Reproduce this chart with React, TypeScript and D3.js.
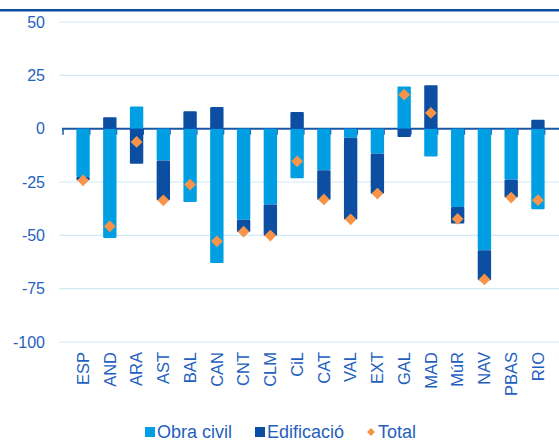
import React, { useEffect, useRef } from "react";
import * as d3 from "d3";

const categories = ["ESP", "AND", "ARA", "AST", "BAL", "CAN", "CNT", "CLM", "CiL", "CAT", "VAL", "EXT", "GAL", "MAD", "MúR", "NAV", "PBAS", "RIO"];
const obraCivil = [-22.7, -51.3, 10.4, -14.9, -34.4, -63.0, -42.7, -35.5, -23.2, -19.5, -4.2, -11.6, 19.8, -13.0, -36.7, -57.0, -23.9, -37.8];
const edificacio = [-1.5, 5.4, -16.4, -18.7, 8.2, 10.2, -5.7, -14.7, 7.8, -13.8, -38.4, -18.9, -3.9, 20.3, -7.8, -14.1, -8.4, 4.2];
const total = [-24.2, -45.8, -6.2, -33.6, -26.2, -52.8, -48.3, -50.1, -15.3, -33.2, -42.5, -30.4, 15.9, 7.4, -42.3, -70.7, -32.3, -33.5];
const yTicks = [50, 25, 0, -25, -50, -75, -100];
const seriesNames = ["Obra civil", "Edificació", "Total"];

const colors = {
  obra: "#009FE3",
  edif: "#0B4EA2",
  total: "#F7944A",
  grid: "#CDEBF8",
  axis: "#1A56A8",
  text: "#1F5FBF",
};
const font = "'Liberation Sans', Arial, sans-serif";

const App = () => {
  const svgRef = useRef<SVGSVGElement | null>(null);

  useEffect(() => {
    const width = 559;
    const height = 441;
    const svg = d3.select(svgRef.current);
    svg.selectAll("*").remove();

    svg.append("rect").attr("width", width).attr("height", height).attr("fill", "#fff");

    // header rule
    svg.append("rect").attr("x", 0).attr("y", 9).attr("width", width).attr("height", 2.5).attr("fill", "#0A4F9E");

    const x = d3.scaleBand<string>().domain(categories).range([63, 558]).padding(0.5);
    const y = d3.scaleLinear().domain([-100, 50]).range([342, 22]);

    // gridlines
    svg.append("g")
      .selectAll("line")
      .data(yTicks.filter((d) => d !== 0))
      .enter()
      .append("line")
      .attr("x1", 59)
      .attr("x2", width)
      .attr("y1", (d) => y(d))
      .attr("y2", (d) => y(d))
      .attr("stroke", colors.grid)
      .attr("stroke-width", 1.2);

    // y labels
    svg.append("g")
      .selectAll("text")
      .data(yTicks)
      .enter()
      .append("text")
      .attr("x", 45)
      .attr("y", (d) => y(d))
      .attr("dy", "0.35em")
      .attr("text-anchor", "end")
      .attr("fill", colors.text)
      .style("font-family", font)
      .style("font-size", "16px")
      .text((d) => d);

    // stacked bars
    const rows = categories.map((c, i) => ({ cat: c, obra: obraCivil[i], edif: edificacio[i] }));
    const stack = d3.stack<any>().keys(["obra", "edif"]).offset(d3.stackOffsetDiverging);
    const layers = stack(rows);
    const layerColors = [colors.obra, colors.edif];

    // zero axis with ticks
    const axisG = svg.append("g");
    axisG.append("line")
      .attr("x1", 62)
      .attr("x2", width)
      .attr("y1", y(0))
      .attr("y2", y(0))
      .attr("stroke", colors.axis)
      .attr("stroke-width", 2);
    const step = x.step();
    axisG.selectAll(".tick")
      .data(d3.range(categories.length + 1))
      .enter()
      .append("line")
      .attr("x1", (d) => 63 + d * step)
      .attr("x2", (d) => 63 + d * step)
      .attr("y1", y(0))
      .attr("y2", y(0) + 6)
      .attr("stroke", colors.axis)
      .attr("stroke-width", 1.5);

    layers.forEach((layer, li) => {
      svg.append("g")
        .selectAll("rect")
        .data(layer)
        .enter()
        .append("rect")
        .attr("x", (d: any) => x(d.data.cat)!)
        .attr("width", x.bandwidth())
        .attr("y", (d) => y(Math.max(d[0], d[1])))
        .attr("height", (d) => Math.abs(y(d[0]) - y(d[1])))
        .attr("rx", 1)
        .attr("fill", layerColors[li]);
    });

    // total diamonds
    const diamond = d3.symbol().type(d3.symbolDiamond2).size(88);
    svg.append("g")
      .selectAll("path")
      .data(total)
      .enter()
      .append("path")
      .attr("d", diamond)
      .attr("transform", (d, i) => `translate(${x(categories[i])! + x.bandwidth() / 2},${y(d)})`)
      .attr("fill", colors.total);

    // x labels
    svg.append("g")
      .selectAll("text")
      .data(categories)
      .enter()
      .append("text")
      .attr("transform", (d) => `translate(${x(d)! + x.bandwidth() / 2},352) rotate(-90)`)
      .attr("text-anchor", "end")
      .attr("dy", "0.35em")
      .attr("fill", colors.text)
      .style("font-family", font)
      .style("font-size", "16.5px")
      .text((d) => d);

    // legend
    const legend = svg.append("g").style("font-family", font).style("font-size", "18px");
    const items = [
      { name: seriesNames[0], x: 145, color: colors.obra, shape: "rect" },
      { name: seriesNames[1], x: 255, color: colors.edif, shape: "rect" },
      { name: seriesNames[2], x: 366, color: colors.total, shape: "diamond" },
    ];
    const ly = 432;
    items.forEach((it) => {
      if (it.shape === "rect") {
        legend.append("rect").attr("x", it.x).attr("y", ly - 5).attr("width", 10).attr("height", 10).attr("fill", it.color);
      } else {
        legend.append("path")
          .attr("d", d3.symbol().type(d3.symbolDiamond2).size(40)())
          .attr("transform", `translate(${it.x + 5},${ly})`)
          .attr("fill", it.color);
      }
      legend.append("text")
        .attr("x", it.x + 12)
        .attr("y", ly)
        .attr("dy", "0.35em")
        .attr("fill", colors.text)
        .text(it.name);
    });
  }, []);

  return (
    <svg
      ref={svgRef}
      width={559}
      height={441}
      style={{ position: "absolute", left: 0, top: 0, display: "block" }}
    />
  );
};

export default App;
